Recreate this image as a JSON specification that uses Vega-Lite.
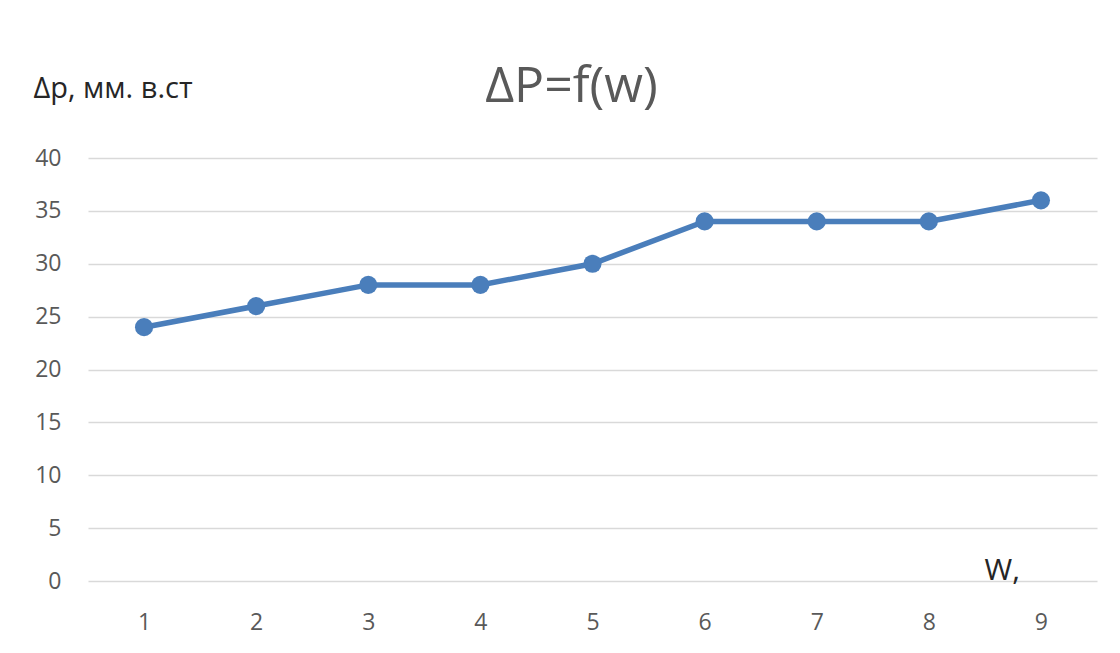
{
  "$schema": "https://vega.github.io/schema/vega-lite/v6.json",
  "autosize": {"type": "none"},
  "padding": {"left": 88, "top": 158, "right": 23, "bottom": 72},
  "width": 1009,
  "height": 423,
  "background": "white",
  "title": {
    "text": "ΔP=f(w)",
    "font": "Open Sans",
    "fontSize": 50,
    "fontWeight": "normal",
    "color": "#595959",
    "anchor": "middle",
    "dx": -21,
    "dy": 86,
    "offset": 48
  },
  "data": {
    "values": [
      {"w": 1, "dp": 24},
      {"w": 2, "dp": 26},
      {"w": 3, "dp": 28},
      {"w": 4, "dp": 28},
      {"w": 5, "dp": 30},
      {"w": 6, "dp": 34},
      {"w": 7, "dp": 34},
      {"w": 8, "dp": 34},
      {"w": 9, "dp": 36}
    ]
  },
  "config": {
    "view": {"stroke": null},
    "axis": {
      "labelFont": "Open Sans",
      "labelFontSize": 23,
      "labelColor": "#595959",
      "titleFont": "Open Sans",
      "titleFontWeight": "normal",
      "titleColor": "#262626",
      "domain": false,
      "ticks": false
    }
  },
  "encoding": {
    "x": {
      "field": "w",
      "type": "ordinal",
      "axis": {
        "labelAngle": 0,
        "labelPadding": 41,
        "labelBaseline": "middle",
        "grid": false,
        "title": "W,",
        "titleFontSize": 30,
        "titleAngle": 0,
        "titleAlign": "left",
        "titleBaseline": "alphabetic",
        "titleX": 896,
        "titleY": -2
      }
    },
    "y": {
      "field": "dp",
      "type": "quantitative",
      "scale": {"domain": [0, 40], "nice": false},
      "axis": {
        "values": [0, 5, 10, 15, 20, 25, 30, 35, 40],
        "labelPadding": 27,
        "gridColor": "#d9d9d9",
        "gridWidth": 1.5,
        "title": "Δp, мм. в.ст",
        "titleFontSize": 29,
        "titleAngle": 0,
        "titleAlign": "left",
        "titleBaseline": "alphabetic",
        "titleX": -55,
        "titleY": -61
      }
    }
  },
  "layer": [
    {"mark": {"type": "line", "color": "#4a7ebb", "strokeWidth": 5.5}},
    {"mark": {"type": "point", "filled": true, "opacity": 1, "color": "#4a7ebb", "size": 330}}
  ]
}
